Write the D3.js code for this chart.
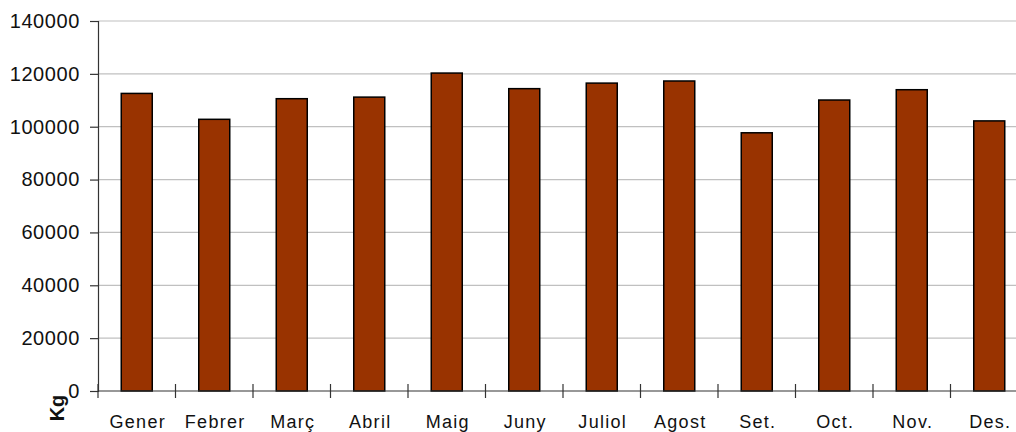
<!DOCTYPE html>
<html><head><meta charset="utf-8">
<script src="https://cdn.jsdelivr.net/npm/d3@7"></script>
<style>body{margin:0;background:#fff;}svg{display:block;}</style>
</head><body><svg id="c" width="1016" height="432"></svg>
<script>
const categories = ["Gener","Febrer","Març","Abril","Maig","Juny","Juliol","Agost","Set.","Oct.","Nov.","Des."];
const values = [112600,102800,110600,111200,120300,114400,116500,117300,97700,110100,114000,102200];
const yTicks = [0,20000,40000,60000,80000,100000,120000,140000];
const yLabel = "Kg";

(function(){
const svg = d3.select("#c");
const mLeft = 98, mTop = 21, mBottom = 391, plotW = 930;
const x = d3.scaleBand().domain(categories).range([mLeft, mLeft + plotW]).paddingInner(0.6).paddingOuter(0.3);
const y = d3.scaleLinear().domain([0, 140000]).range([mBottom, mTop]);
const font = "Liberation Sans, Arial, sans-serif";

svg.append("g").selectAll("line").data(yTicks.filter(d => d > 0)).join("line")
  .attr("x1", mLeft).attr("x2", mLeft + plotW)
  .attr("y1", d => y(d)).attr("y2", d => y(d))
  .attr("stroke", "#c0c0c0").attr("stroke-width", 1.2);

svg.append("g").selectAll("rect").data(values).join("rect")
  .attr("x", (d, i) => x(categories[i]))
  .attr("y", d => y(d))
  .attr("width", x.bandwidth())
  .attr("height", d => y(0) - y(d))
  .attr("fill", "#993300").attr("stroke", "#000").attr("stroke-width", 1.5);

const ya = svg.append("g").attr("transform", `translate(${mLeft},0)`)
  .call(d3.axisLeft(y).tickValues(yTicks).tickSize(8).tickPadding(10).tickFormat(d3.format("d")));
ya.select(".domain").attr("stroke", "#333").attr("stroke-width", 1.2);
ya.selectAll(".tick line").attr("stroke", "#333").attr("stroke-width", 1.2);
ya.selectAll("text").attr("font-family", font).attr("font-size", 20).attr("letter-spacing", "0.6px").attr("fill", "#111");

const step = plotW / categories.length;
const xa = svg.append("g").attr("transform", `translate(0,${mBottom})`);
xa.append("line").attr("x1", mLeft).attr("x2", mLeft + plotW).attr("stroke", "#333").attr("stroke-width", 1.2);
xa.selectAll("line.t").data(d3.range(categories.length + 1)).join("line").attr("class", "t")
  .attr("x1", i => mLeft + i * step).attr("x2", i => mLeft + i * step)
  .attr("y1", -7).attr("y2", 7).attr("stroke", "#333").attr("stroke-width", 1.2);
xa.selectAll("text").data(categories).join("text")
  .attr("x", d => x(d) + x.bandwidth() / 2 + 1).attr("y", 37)
  .attr("text-anchor", "middle").attr("font-family", font).attr("font-size", 18)
  .attr("letter-spacing", "1.3px").attr("fill", "#111")
  .text(d => d);

svg.append("text").attr("transform", "translate(64,408) rotate(-90)")
  .attr("text-anchor", "middle").attr("font-family", font).attr("font-size", 20)
  .attr("font-weight", "bold").attr("fill", "#111").text(yLabel);
})();
</script></body></html>
